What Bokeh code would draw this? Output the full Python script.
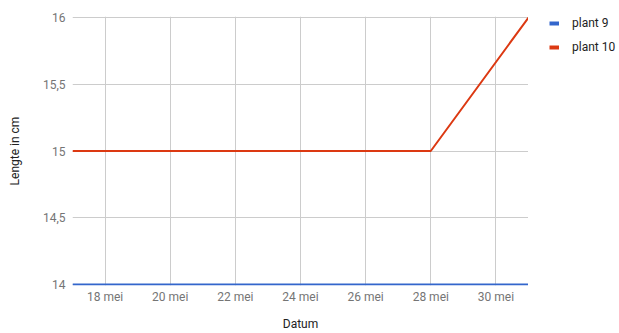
from bokeh.plotting import figure
from bokeh.layouts import row
from bokeh.models import Range1d, FixedTicker, Legend, LegendItem
from bokeh.embed import file_html
from bokeh.resources import INLINE

# Measurement days (May) and plant lengths in cm
days = [17, 28, 31]
plant9 = [14, 14, 14]
plant10 = [15, 15, 16]

tick_days = [18, 20, 22, 24, 26, 28, 30]
tick_labels = ["18 mei", "20 mei", "22 mei", "24 mei", "26 mei", "28 mei", "30 mei"]
y_ticks = [14, 14.5, 15, 15.5, 16]
y_labels = ["14", "14,5", "15", "15,5", "16"]

FONT = "Roboto"
BLUE = "#3366cc"
RED = "#dc3912"

pad = 0.008
p = figure(width=528, height=333, output_backend="svg", toolbar_location=None,
           x_range=Range1d(17, 31), y_range=Range1d(14 - pad, 16 + pad),
           min_border_left=72, min_border_right=0, min_border_top=16,
           min_border_bottom=48)
p.outline_line_color = None
p.background_fill_color = "white"
p.border_fill_color = "white"

p.line(days, plant9, line_color=BLUE, line_width=2)
p.line(days, plant10, line_color=RED, line_width=2)

p.xaxis.ticker = FixedTicker(ticks=tick_days)
p.xaxis.major_label_overrides = dict(zip(tick_days, tick_labels))
p.yaxis.ticker = FixedTicker(ticks=y_ticks)
p.yaxis.major_label_overrides = dict(zip(y_ticks, y_labels))

for ax in (p.xaxis[0], p.yaxis[0]):
    ax.axis_line_color = None
    ax.major_tick_line_color = None
    ax.minor_tick_line_color = None
    ax.major_tick_out = 0
    ax.major_tick_in = 0
    ax.minor_tick_out = 0
    ax.minor_tick_in = 0
    ax.major_label_text_font = FONT
    ax.major_label_text_font_size = "12px"
    ax.major_label_text_color = "#757575"
    ax.axis_label_text_font = FONT
    ax.axis_label_text_font_size = "12px"
    ax.axis_label_text_font_style = "normal"
    ax.axis_label_text_color = "#222222"

p.xaxis.axis_label = "Datum"
p.yaxis.axis_label = "Lengte in cm"
p.xaxis.major_label_standoff = 4
p.xaxis.axis_label_standoff = 10
p.yaxis.major_label_standoff = 7
p.yaxis.axis_label_standoff = 18

p.xgrid.grid_line_color = "#cccccc"
p.ygrid.grid_line_color = "#cccccc"

# legend panel to the right of the chart; its series sit outside the
# panel's view so only the legend swatches show
lg = figure(width=91, height=333, output_backend="svg", toolbar_location=None,
            x_range=Range1d(0, 1), y_range=Range1d(0, 1),
            min_border_left=21, min_border_right=0, min_border_top=2,
            min_border_bottom=0)
lg.axis.visible = False
lg.grid.visible = False
lg.outline_line_color = None
s9 = lg.line(days, plant9, line_color=BLUE, line_width=4)
s10 = lg.line(days, plant10, line_color=RED, line_width=4)

legend = Legend(items=[LegendItem(label="plant 9", renderers=[s9]),
                       LegendItem(label="plant 10", renderers=[s10])],
                location="top_left", orientation="vertical",
                glyph_width=10, glyph_height=14, spacing=10,
                label_text_font=FONT, label_text_font_size="12px",
                label_text_color="#222222", label_standoff=13,
                label_height=14,
                background_fill_alpha=0, border_line_color=None,
                padding=0, margin=0)
lg.add_layout(legend)

layout = row(p, lg, spacing=0)
open("out.html", "w").write(file_html(layout, INLINE))
